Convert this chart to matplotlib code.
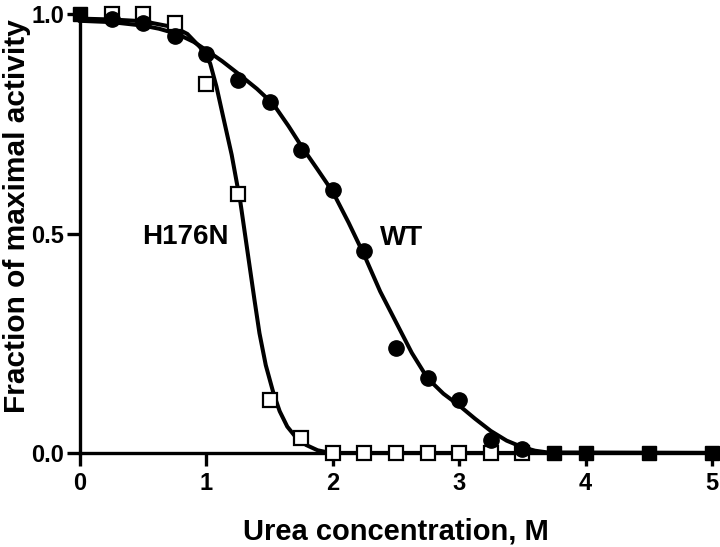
import matplotlib.pyplot as plt

plt.rcParams["font.family"] = ["Liberation Sans", "DejaVu Sans"]
plt.rcParams["font.weight"] = "bold"

# measured points
wt_x = [0.25, 0.5, 0.75, 1.0, 1.25, 1.5, 1.75, 2.0, 2.25, 2.5, 2.75, 3.0, 3.25, 3.5]
wt_y = [0.99, 0.98, 0.95, 0.91, 0.85, 0.80, 0.69, 0.60, 0.46, 0.24, 0.17, 0.12, 0.03, 0.01]

h176n_x = [0.25, 0.5, 0.75, 1.0, 1.25, 1.5, 1.75, 2.0, 2.25, 2.5, 2.75, 3.0, 3.25, 3.5]
h176n_y = [1.0, 1.0, 0.98, 0.84, 0.59, 0.12, 0.035, 0.0, 0.0, 0.0, 0.0, 0.0, 0.0, 0.0]

# points where both series coincide (drawn as filled squares)
both_x = [0.0, 3.75, 4.0, 4.5, 5.0]
both_y = [1.0, 0.0, 0.0, 0.0, 0.0]

# fitted curves
wt_fit_x = [0.0, 0.25, 0.5, 0.625, 0.77, 0.9, 1.0, 1.125, 1.25, 1.4, 1.53, 1.65, 1.75,
            1.875, 2.0, 2.125, 2.25, 2.375, 2.5, 2.625, 2.75, 2.875, 3.0, 3.125, 3.25,
            3.375, 3.5, 3.6, 3.7, 5.0]
wt_fit_y = [0.985, 0.982, 0.974, 0.967, 0.955, 0.937, 0.918, 0.893, 0.865, 0.83, 0.795,
            0.745, 0.70, 0.648, 0.595, 0.525, 0.45, 0.368, 0.298, 0.228, 0.17, 0.135,
            0.108, 0.078, 0.05, 0.028, 0.013, 0.005, 0.001, 0.0]

h_fit_x = [0.0, 0.25, 0.5, 0.75, 0.85, 0.95, 1.03, 1.08, 1.13, 1.2, 1.27, 1.34, 1.38,
           1.42, 1.47, 1.53, 1.58, 1.64, 1.71, 1.79, 1.88, 1.98, 5.0]
h_fit_y = [0.99, 0.988, 0.984, 0.97, 0.955, 0.925, 0.888, 0.835, 0.77, 0.68, 0.57, 0.43,
           0.35, 0.273, 0.2, 0.137, 0.095, 0.06, 0.035, 0.018, 0.006, 0.0, 0.0]

fig = plt.figure(figsize=(7.2, 5.47), dpi=100)
ax = fig.add_axes([0.111, 0.172, 0.878, 0.802])

ax.plot(wt_fit_x, wt_fit_y, color="black", lw=2.9, zorder=2, clip_on=False, solid_joinstyle="round")
ax.plot(h_fit_x, h_fit_y, color="black", lw=2.9, zorder=2, clip_on=False, solid_joinstyle="round")

ax.plot(h176n_x, h176n_y, ls="none", marker="s", ms=10, mfc="white", mec="black", mew=1.6, zorder=3, clip_on=False)
ax.plot(wt_x, wt_y, ls="none", marker="o", ms=11, mfc="black", mec="black", zorder=4, clip_on=False)
ax.plot(both_x, both_y, ls="none", marker="s", ms=10, mfc="black", mec="black", zorder=4, clip_on=False)

ax.text(0.835, 0.492, "H176N", fontsize=20, fontweight="bold", ha="center", va="center")
ax.text(2.543, 0.491, "WT", fontsize=20, fontweight="bold", ha="center", va="center")

ax.set_xlim(0, 5)
ax.set_ylim(0, 1.0)
ax.set_xticks([0, 1, 2, 3, 4, 5])
ax.set_yticks([0.0, 0.5, 1.0])
ax.set_yticklabels(["0.0", "0.5", "1.0"])
for side in ("top", "right"):
    ax.spines[side].set_visible(False)
for side in ("left", "bottom"):
    ax.spines[side].set_linewidth(2.4)
ax.tick_params(width=2.4, length=9.5, labelsize=17, direction="out")
ax.tick_params(axis="x", pad=4)
ax.tick_params(axis="y", pad=2)
for lab in ax.get_xticklabels() + ax.get_yticklabels():
    lab.set_fontweight("bold")

fig.text(396 / 720, 1 - 531 / 547, "Urea concentration, M", fontsize=21, fontweight="bold",
         ha="center", va="center")
fig.text(17 / 720, 1 - 216 / 547, "Fraction of maximal activity", fontsize=21.5,
         fontweight="bold", ha="center", va="center", rotation=90)

fig.savefig("out.png", dpi=100)
